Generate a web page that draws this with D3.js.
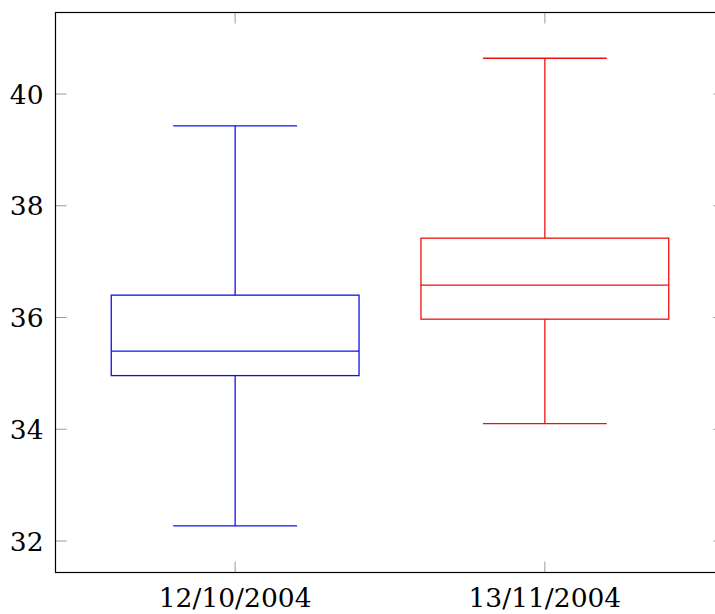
<!DOCTYPE html>
<meta charset="utf-8">
<head>
<title>Box plot</title>
<style>
body { margin: 0; background: #fff; }
</style>
</head>
<body>
<svg width="715" height="614"></svg>
<script src="https://cdnjs.cloudflare.com/ajax/libs/d3/7.8.5/d3.min.js"></script>
<script>
// data
var categories = ["12/10/2004", "13/11/2004"];
var lowerWhisker = [32.27, 34.10];
var lowerQuartile = [34.96, 35.97];
var median = [35.40, 36.58];
var upperQuartile = [36.40, 37.42];
var upperWhisker = [39.43, 40.64];
var yTicks = [32, 34, 36, 38, 40];

var colors = ["#1010f0", "#f01010"];
const boxW = 0.8, capW = 0.4, tickLen = 11;
const fontFamily = "DejaVu Serif", fontSize = 26.5;

var svg = d3.select("svg");

var x = d3.scaleLinear().domain([0.42, 2.58]).range([55.5, 724.5]);
var y = d3.scaleLinear().domain([31.436, 41.459]).range([572.5, 12.5]);

var boxes = categories.map(function(c, i) {
	return { pos: i + 1, lo: lowerWhisker[i], q1: lowerQuartile[i], med: median[i],
		q3: upperQuartile[i], hi: upperWhisker[i], color: colors[i] };
});

//////////////////////////////////////////////////
// ticks (inside, gray, on all four sides)
//////////////////////////////////////////////////
var ticks = svg.append("g").attr("stroke", "#999").attr("stroke-width", 1);
yTicks.forEach(function(t) {
	ticks.append("line").attr("x1", x.range()[0]).attr("x2", x.range()[0] + tickLen)
		.attr("y1", y(t)).attr("y2", y(t));
	ticks.append("line").attr("x1", x.range()[1]).attr("x2", x.range()[1] - tickLen)
		.attr("y1", y(t)).attr("y2", y(t));
});
boxes.forEach(function(d) {
	ticks.append("line").attr("x1", x(d.pos)).attr("x2", x(d.pos))
		.attr("y1", y.range()[0]).attr("y2", y.range()[0] - tickLen);
	ticks.append("line").attr("x1", x(d.pos)).attr("x2", x(d.pos))
		.attr("y1", y.range()[1]).attr("y2", y.range()[1] + tickLen);
});

// tick labels
svg.append("g").selectAll("text").data(yTicks).enter().append("text")
	.attr("x", 43.5).attr("y", function(d) { return y(d); })
	.attr("dy", "0.36em").attr("text-anchor", "end")
	.attr("font-family", fontFamily)
	.attr("font-size", fontSize).attr("fill", "#000")
	.text(function(d) { return d; });

svg.append("g").selectAll("text").data(boxes).enter().append("text")
	.attr("x", function(d) { return x(d.pos); }).attr("y", 607)
	.attr("text-anchor", "middle")
	.attr("font-family", fontFamily)
	.attr("font-size", fontSize).attr("fill", "#000")
	.text(function(d, i) { return categories[i]; });

//////////////////////////////////////////////////
// boxes
//////////////////////////////////////////////////
var g = svg.append("g").selectAll("g").data(boxes).enter().append("g")
	.attr("stroke", function(d) { return d.color; })
	.attr("stroke-width", 1.3).attr("fill", "none");

// whiskers
g.append("line").attr("x1", function(d) { return x(d.pos); }).attr("x2", function(d) { return x(d.pos); })
	.attr("y1", function(d) { return y(d.hi); }).attr("y2", function(d) { return y(d.q3); });
g.append("line").attr("x1", function(d) { return x(d.pos); }).attr("x2", function(d) { return x(d.pos); })
	.attr("y1", function(d) { return y(d.q1); }).attr("y2", function(d) { return y(d.lo); });
// caps
g.append("line").attr("x1", function(d) { return x(d.pos - capW / 2); }).attr("x2", function(d) { return x(d.pos + capW / 2); })
	.attr("y1", function(d) { return y(d.hi); }).attr("y2", function(d) { return y(d.hi); });
g.append("line").attr("x1", function(d) { return x(d.pos - capW / 2); }).attr("x2", function(d) { return x(d.pos + capW / 2); })
	.attr("y1", function(d) { return y(d.lo); }).attr("y2", function(d) { return y(d.lo); });
// box
g.append("rect")
	.attr("x", function(d) { return x(d.pos - boxW / 2); })
	.attr("width", function(d) { return x(d.pos + boxW / 2) - x(d.pos - boxW / 2); })
	.attr("y", function(d) { return y(d.q3); })
	.attr("height", function(d) { return y(d.q1) - y(d.q3); });
// median
g.append("line").attr("x1", function(d) { return x(d.pos - boxW / 2); }).attr("x2", function(d) { return x(d.pos + boxW / 2); })
	.attr("y1", function(d) { return y(d.med); }).attr("y2", function(d) { return y(d.med); });

// axis frame
svg.append("rect")
	.attr("x", x.range()[0]).attr("y", y.range()[1])
	.attr("width", x.range()[1] - x.range()[0]).attr("height", y.range()[0] - y.range()[1])
	.attr("fill", "none").attr("stroke", "#000").attr("stroke-width", 1.2);
</script>
</body>
</html>
